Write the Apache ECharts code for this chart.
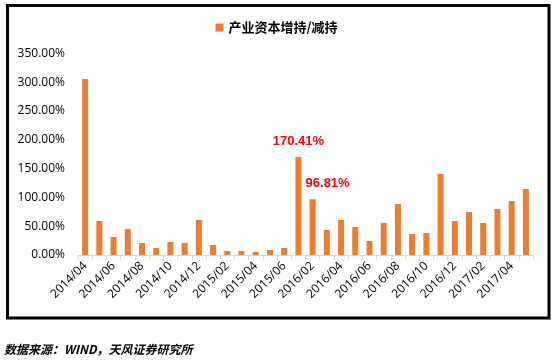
<!DOCTYPE html>
<html>
<head>
<meta charset="utf-8">
<script src="https://cdn.jsdelivr.net/npm/echarts@6/dist/echarts.min.js"></script>
<style>html,body{margin:0;padding:0;background:#fff}#c{width:553px;height:362px}</style>
</head>
<body>
<div id="c"></div>
<script>
const categories = ['2014/04','2014/05','2014/06','2014/07','2014/08','2014/09','2014/10','2014/11','2014/12',
  '2015/01','2015/02','2015/03','2015/04','2015/05','2015/06','2016/01','2016/02','2016/03','2016/04','2016/05',
  '2016/06','2016/07','2016/08','2016/09','2016/10','2016/11','2016/12','2017/01','2017/02','2017/03','2017/04','2017/05'];
const values = [305.7,59.1,31.3,45.2,20.8,12.2,22.6,20.8,60.8,17.4,6.9,6.9,5.2,8.7,12.2,170.41,96.81,43.4,60.8,48.6,
  24.3,55.6,88.6,36.5,38.2,140.7,59.1,74.7,55.6,79.9,93.8,114.6];
const labeledIdx = [15, 16];
const labelOffsets = [[0, 0], [15, 0]];
const yTicks = { min: 0, max: 350, interval: 50 };
const seriesName = '产业资本增持/减持';
const sourceText = '数据来源：WIND，天风证券研究所';

const data = values.map((v, i) => {
  const k = labeledIdx.indexOf(i);
  if (k < 0) return v;
  return {
    value: v,
    label: {
      show: true, position: 'top', distance: 9, offset: labelOffsets[k],
      color: '#FF0000', fontWeight: 'bold', fontSize: 13, fontFamily: 'Liberation Sans, Arial',
      formatter: p => p.value.toFixed(2) + '%'
    }
  };
});

const chart = echarts.init(document.getElementById('c'), null, { renderer: 'canvas' });
chart.setOption({
  animation: false,
  backgroundColor: '#fff',
  legend: {
    data: [seriesName], top: 16, left: 'center', icon: 'rect', itemWidth: 8, itemHeight: 8, itemGap: 5,
    textStyle: { fontSize: 13, fontWeight: 'bold', color: '#000', fontFamily: 'Noto Sans CJK SC' }
  },
  grid: { left: 78, right: 20, top: 53.5, bottom: 107 },
  xAxis: {
    type: 'category', data: categories, boundaryGap: true,
    axisLine: { lineStyle: { color: '#d9d9d9', width: 1 } },
    axisTick: { show: true, interval: 0, length: 5, lineStyle: { color: '#d9d9d9' } },
    axisLabel: { interval: 1, rotate: 45, fontSize: 12, color: '#000', fontFamily: 'Open Sans', margin: 9 }
  },
  yAxis: {
    type: 'value', min: yTicks.min, max: yTicks.max, interval: yTicks.interval,
    axisLine: { show: false }, axisTick: { show: false }, splitLine: { show: false },
    axisLabel: { fontSize: 12, color: '#000', fontFamily: 'Open Sans', margin: 13, formatter: v => v.toFixed(2) + '%' }
  },
  series: [{
    name: seriesName, type: 'bar', data: data, barWidth: 6,
    itemStyle: { color: '#ED7D31' }
  }],
  graphic: [
    { type: 'rect', shape: { x: 7.5, y: 5.5, width: 541.5, height: 312.5 }, style: { fill: 'none', stroke: '#000', lineWidth: 3 } },
    { type: 'text', left: 4, top: 343, style: { text: sourceText, font: 'italic bold 12px "Noto Sans CJK SC"', fill: '#000' } }
  ]
});
</script>
</body>
</html>
